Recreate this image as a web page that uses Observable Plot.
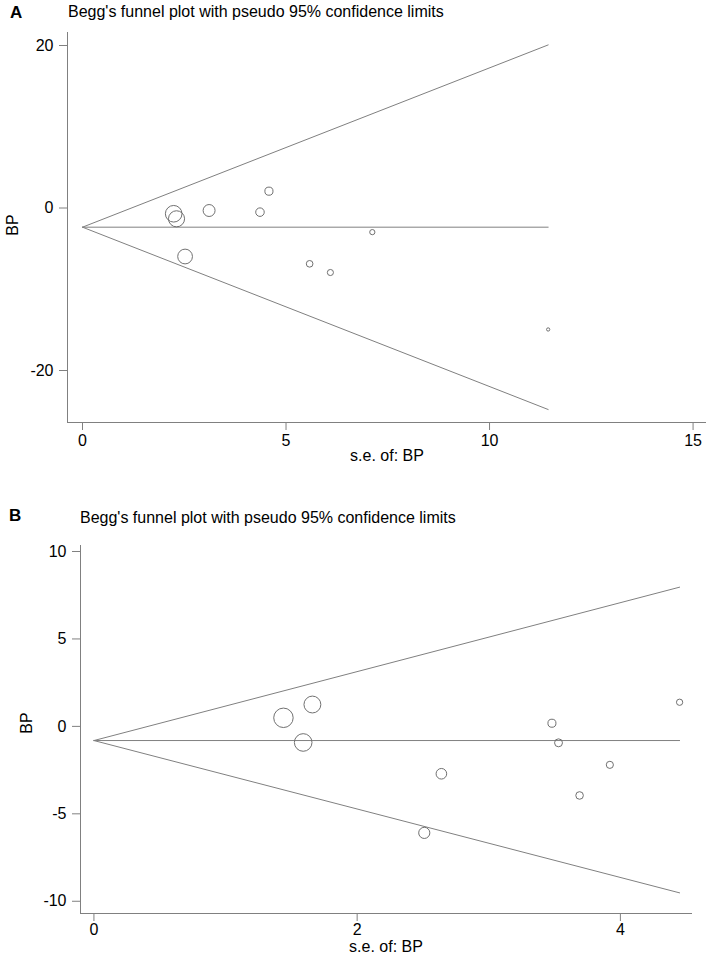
<!DOCTYPE html>
<html>
<head>
<meta charset="utf-8">
<script src="https://cdn.jsdelivr.net/npm/d3@7"></script>
<script src="https://cdn.jsdelivr.net/npm/@observablehq/plot@0.6"></script>
<style>
  body { margin: 0; background: #fff; font-family: "Liberation Sans", Arial, sans-serif; }
  #wrap { position: relative; width: 714px; height: 956px; overflow: hidden; }
  .panel { position: absolute; left: 0; }
  .lab { position: absolute; font-weight: bold; font-size: 17px; color: #000; line-height: 17px; z-index: 2; }
  .ttl { position: absolute; font-size: 16px; color: #000; line-height: 16px; white-space: nowrap; z-index: 2; }
  .xl { position: absolute; width: 120px; text-align: center; font-size: 16px; line-height: 16px; color: #000; z-index: 2; }
  .yl { position: absolute; width: 40px; height: 16px; text-align: center; font-size: 16px; line-height: 16px; color: #000; transform: rotate(-90deg); z-index: 2; }
</style>
</head>
<body>
<div id="wrap">
  <div class="lab" style="left:10px; top:4px;">A</div>
  <div class="ttl" style="left:68px; top:4px;">Begg's funnel plot with pseudo 95% confidence limits</div>
  <div class="xl" id="xla" style="left:327px; top:448px;"></div>
  <div class="yl" id="yla" style="left:-7px; top:217px;"></div>
  <div class="lab" style="left:9px; top:507px;">B</div>
  <div class="ttl" style="left:80px; top:510px;">Begg's funnel plot with pseudo 95% confidence limits</div>
  <div class="xl" id="xlb" style="left:326px; top:939px;"></div>
  <div class="yl" id="ylb" style="left:7px; top:715px;"></div>
  <div class="panel" id="pa" style="top:0px;"></div>
  <div class="panel" id="pb" style="top:480px;"></div>
</div>
<script>
// ---------- Panel A data ----------
const seA = [2.24, 2.31, 3.11, 4.58, 4.36, 7.12, 2.52, 5.58, 6.09, 11.44];
const bpA = [-0.71, -1.33, -0.31, 2.07, -0.51, -2.97, -5.97, -6.87, -7.94, -14.95];
const pooledA = -2.36;
const funnelSeA = [0, 11.44];
const upperA = [-2.36, 20.07];
const lowerA = [-2.36, -24.8];
const xTicksA = [0, 5, 10, 15];
const yTicksA = [-20, 0, 20];

// ---------- Panel B data ----------
const seB = [1.44, 1.66, 1.59, 2.64, 3.48, 3.53, 3.92, 4.45, 2.51, 3.69];
const bpB = [0.49, 1.25, -0.92, -2.71, 0.18, -0.94, -2.2, 1.38, -6.09, -3.95];
const pooledB = -0.81;
const funnelSeB = [0, 4.45];
const upperB = [-0.81, 7.96];
const lowerB = [-0.81, -9.52];
const xTicksB = [0, 2, 4];
const yTicksB = [-10, -5, 0, 5, 10];

const xLabel = "s.e. of: BP";
const yLabel = "BP";
["xla", "xlb"].forEach(id => document.getElementById(id).textContent = xLabel);
["yla", "ylb"].forEach(id => document.getElementById(id).textContent = yLabel);

function funnel(cfg) {
  const pts = cfg.se.map((s, i) => ({se: s, bp: cfg.bp[i], w: 1 / (s * s)}));
  const up = cfg.fse.map((s, i) => ({se: s, bp: cfg.upper[i]}));
  const lo = cfg.fse.map((s, i) => ({se: s, bp: cfg.lower[i]}));
  const mid = cfg.fse.map(s => ({se: s, bp: cfg.pooled}));
  const grey = "#808080";
  return Plot.plot({
    width: 714,
    height: cfg.height,
    marginTop: cfg.mt, marginBottom: cfg.mb, marginLeft: cfg.ml, marginRight: cfg.mr,
    style: {fontFamily: '"Liberation Sans", Arial, sans-serif', fontSize: "16px", color: "#000", background: "transparent", overflow: "visible"},
    x: {domain: cfg.xd},
    y: {domain: cfg.yd},
    r: {type: "sqrt", domain: [0, 1], range: [0, cfg.k]},
    marks: [
      Plot.ruleX([cfg.xd[0]], {stroke: grey, strokeWidth: 1}),
      Plot.ruleY([cfg.yd[0]], {stroke: grey, strokeWidth: 1}),
      Plot.axisX({ticks: cfg.xt, tickSize: 8, tickPadding: cfg.xpad, stroke: grey, fill: "#000", label: null, tickFormat: d => String(d)}),
      Plot.axisY({ticks: cfg.yt, tickSize: 8, tickPadding: 6, stroke: grey, fill: "#000", label: null, tickFormat: d => String(d)}),
      Plot.line(mid, {x: "se", y: "bp", stroke: grey, strokeWidth: 1}),
      Plot.line(up, {x: "se", y: "bp", stroke: grey, strokeWidth: 1}),
      Plot.line(lo, {x: "se", y: "bp", stroke: grey, strokeWidth: 1}),
      Plot.dot(pts, {x: "se", y: "bp", r: "w", stroke: "#707070", strokeWidth: 1, fill: "none"})
    ]
  });
}

document.getElementById("pa").appendChild(funnel({
  se: seA, bp: bpA, pooled: pooledA, fse: funnelSeA, upper: upperA, lower: lowerA,
  xt: xTicksA, yt: yTicksA, xd: [-0.3686, 15.33], yd: [-26.4, 21.6],
  height: 480, mt: 32, mb: 58, ml: 67, mr: 8, k: 18.6, xpad: 4
}));
document.getElementById("pb").appendChild(funnel({
  se: seB, bp: bpB, pooled: pooledB, fse: funnelSeB, upper: upperB, lower: lowerB,
  xt: xTicksB, yt: yTicksB, xd: [-0.102, 4.548], yd: [-10.70, 10.343],
  height: 476, mt: 65, mb: 43, ml: 80, mr: 22, k: 14, xpad: 2
}));
</script>
</body>
</html>
